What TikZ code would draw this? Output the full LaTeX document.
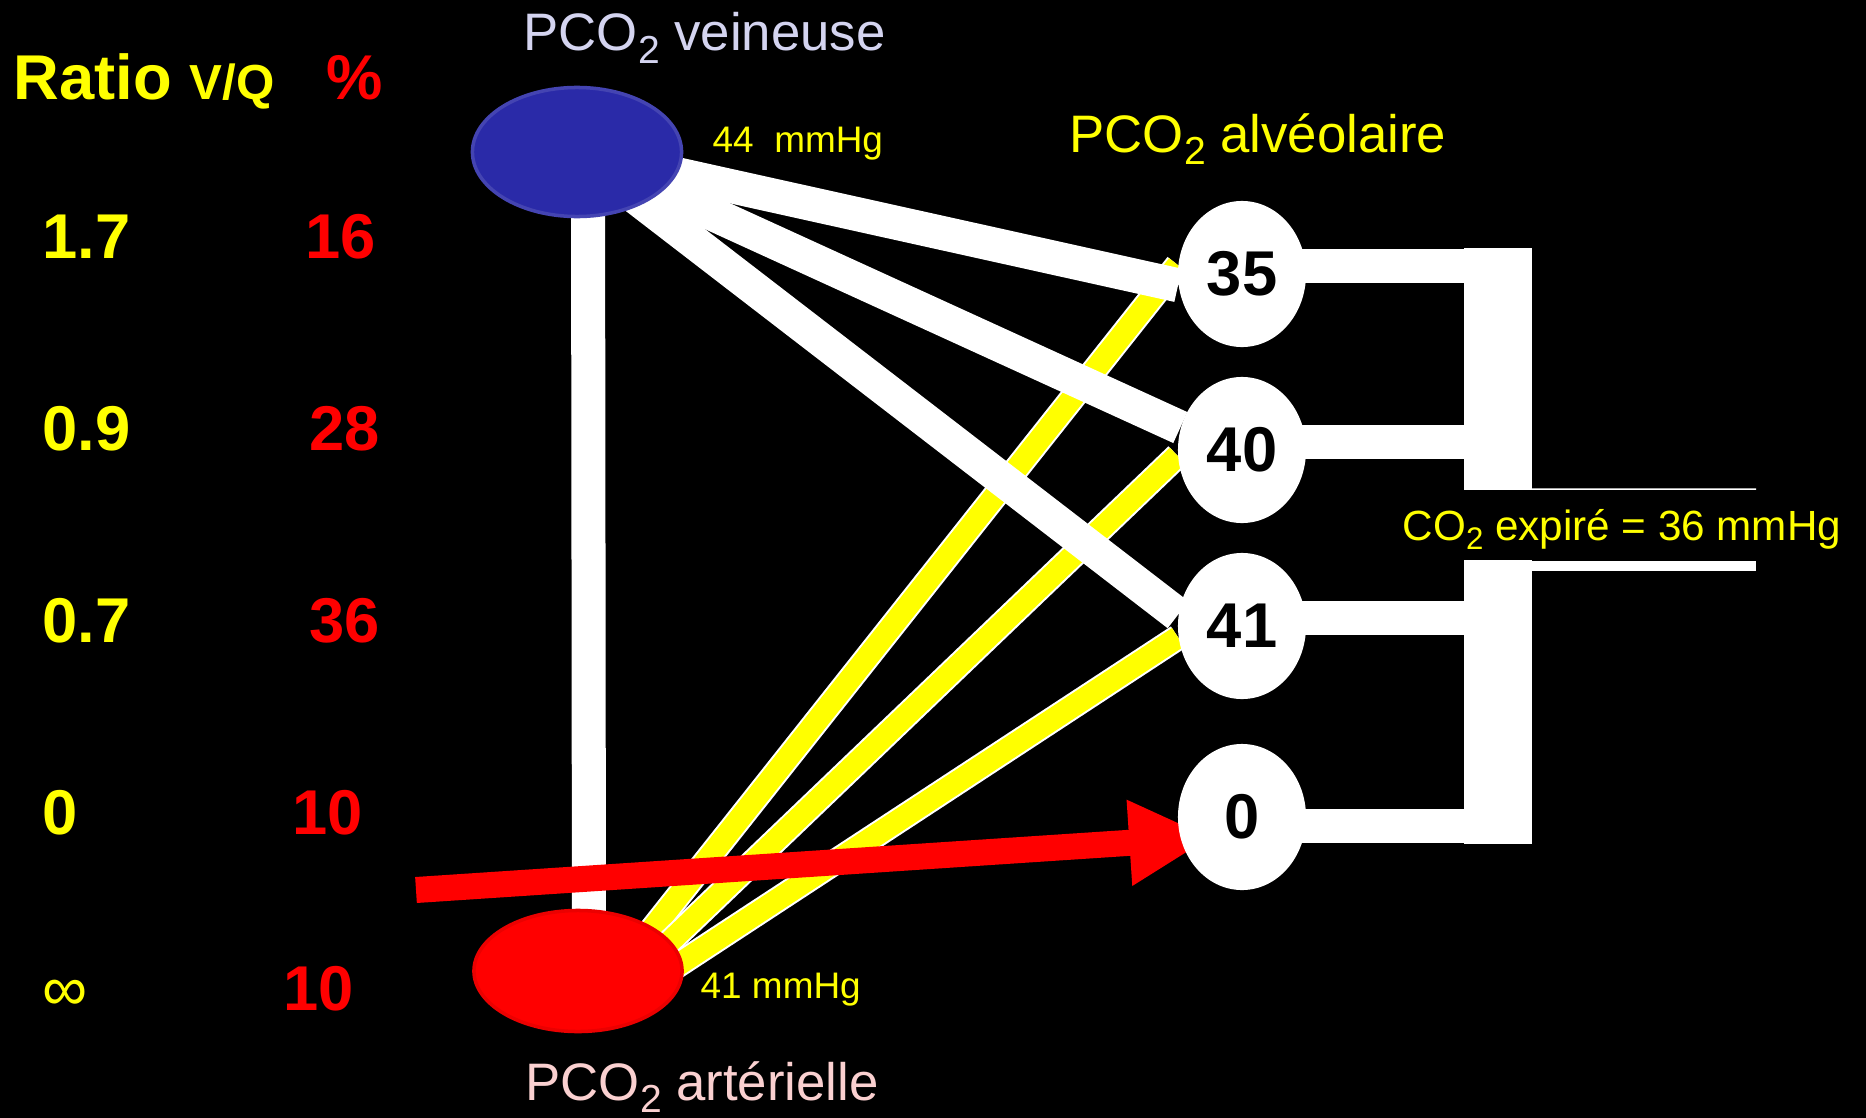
\documentclass[tikz,border=0pt]{standalone}
\usepackage{fontspec}
\setmainfont{Liberation Sans}
\usetikzlibrary{shapes.geometric,arrows.meta}
\definecolor{vqyellow}{RGB}{255,255,0}
\definecolor{vqred}{RGB}{255,0,0}
\definecolor{vqblue}{RGB}{42,42,168}
\definecolor{vqlilac}{RGB}{212,212,240}
\definecolor{vqpink}{RGB}{250,208,208}
\pgfdeclarelayer{bg}\pgfdeclarelayer{pipes}
\pgfsetlayers{bg,pipes,main}
\newcommand{\subtwo}{\raisebox{-0.23em}{\scalebox{0.74}{2}}}
\tikzset{slide/.style={x=0.01cm,y=-0.01cm},
  num/.style={font=\fontsize{18}{21}\selectfont\bfseries,inner sep=0pt,anchor=base west},
  labeltext/.style={font=\fontsize{15}{18}\selectfont,inner sep=0pt,anchor=base west},
  valtext/.style={font=\fontsize{10.5}{12.5}\selectfont,text=vqyellow,inner sep=0pt,anchor=base west},
  exptext/.style={font=\fontsize{12}{14}\selectfont,text=vqyellow,inner sep=0pt,anchor=base west},
  blob/.style={ellipse,inner sep=0pt},
  alv/.style={ellipse,fill=white,text=black,minimum width=1.28cm,minimum height=1.46cm,inner sep=0pt,font=\fontsize{18}{21}\selectfont\bfseries},
  collector/.style={rectangle,fill=white,draw=white,line width=0.5pt,minimum width=0.66cm,inner sep=0pt,outer sep=0pt},
  spoke/.style={white,line width=0.34cm},
  yedge/.style={white,line width=0.26cm,shorten <=-0.2cm},
  yfill/.style={vqyellow,line width=0.22cm,shorten <=-0.2cm},
  shunt/.style={vqred,line width=0.26cm,-{Triangle[length=0.82cm,width=0.8cm]},shorten >=-0.31cm},
  pipe/.style={white,line width=0.34cm}}
\begin{document}
\begin{tikzpicture}[slide]
    \begin{pgfonlayer}{bg}
      \fill[black] (0,0) rectangle (1866,1118); % slide background
    \end{pgfonlayer}
    \useasboundingbox (0,0) rectangle (1866,1118);
    % left table
    \node[num,text=vqyellow] (ratiohead) at (13,99) {Ratio {\fontsize{14}{16}\selectfont V/Q}};
    \node[num,text=vqred] (pcthead) at (326,99) {\%};
    \foreach \r/\p/\xp/\y [count=\k] in {1.7/16/305/258, 0.9/28/309/450, 0.7/36/309/642, 0/10/292/834}{
      \node[num,text=vqyellow] (ratio\k) at (42,\y) {\r};
      \node[num,text=vqred] (pct\k) at (\xp,\y) {\p};
    }
    \node[num,text=vqyellow,font=\fontsize{18}{21}\selectfont] (ratio5) at (42,1010) {∞};
    \node[num,text=vqred] (pct5) at (283,1010) {10};
    % blood
    \node[blob,fill=vqblue,draw=vqblue!88!white,line width=1pt,minimum width=2.09cm,minimum height=1.29cm] (ven) at (577,152) {};
    \node[blob,fill=vqred,draw=vqred!92!black,line width=1pt,minimum width=2.08cm,minimum height=1.21cm] (art) at (578,971) {};
    \node[labeltext,text=vqlilac] (venlabel) at (523,51) {PCO\subtwo\ veineuse};
    \node[valtext] (venval) at (712,152) {44\ \ mmHg};
    \node[labeltext,text=vqpink] (artlabel) at (525,1100) {PCO\subtwo\ artérielle};
    \node[valtext] (artval) at (700,998) {41 mmHg};
    % alveoles
    \node[labeltext,text=vqyellow] (alvlabel) at (1069,152) {PCO\subtwo\ alvéolaire};
    \foreach \val/\y in {35/274, 40/450, 41/626, 0/817}
      \node[alv] (n\val) at (1242,\y) {\val};
    \node[collector,minimum height=2.40cm] (ctop) at (1498,369) {};
    \node[collector,minimum height=2.82cm] (cbot) at (1498,702) {};
    \coordinate (outlet) at (1756,489);
    \coordinate (wallend) at (1756,571);
    \coordinate (shuntstart) at (416,890);
    \node[exptext] (expval) at (1402,540) {CO\subtwo\ expiré = 36 mmHg};
    \begin{pgfonlayer}{pipes}
      \draw[spoke] ([xshift=0.11cm]ven.center) -- ([xshift=0.11cm]art.center); % ven -> art
      \foreach \ang/\tgt in {30/n35.172, 18/n40.185, 5/n41.190}{
        \draw[yedge] (art.\ang) -- (\tgt);
        \draw[yfill] (art.\ang) -- (\tgt);
      }
      \foreach \tgt in {n35.190, n40.160, n41.170}
        \draw[spoke] (ven.center) -- (\tgt);
      \draw[shunt] (shuntstart) -- (n0.200); % shunt
      \foreach \val/\dy in {35/0.08, 40/0.08, 41/0.08, 0/-0.09}
        \coordinate (b\val) at ([yshift=\dy cm]n\val.center);
      \draw[pipe] (b35) -- (b35 -| ctop.east);
      \draw[pipe] (b40) -- (b40 -| ctop.east);
      \draw[pipe] (b41) -- (b41 -| cbot.east);
      \draw[pipe] (b0) -- (b0 -| cbot.east);
      \draw[white,line width=0.015cm] (ctop.south) -- (outlet); % upper wall
      \fill[white] (cbot.north west) rectangle (wallend); % lower wall
    \end{pgfonlayer}
\end{tikzpicture}
\end{document}
